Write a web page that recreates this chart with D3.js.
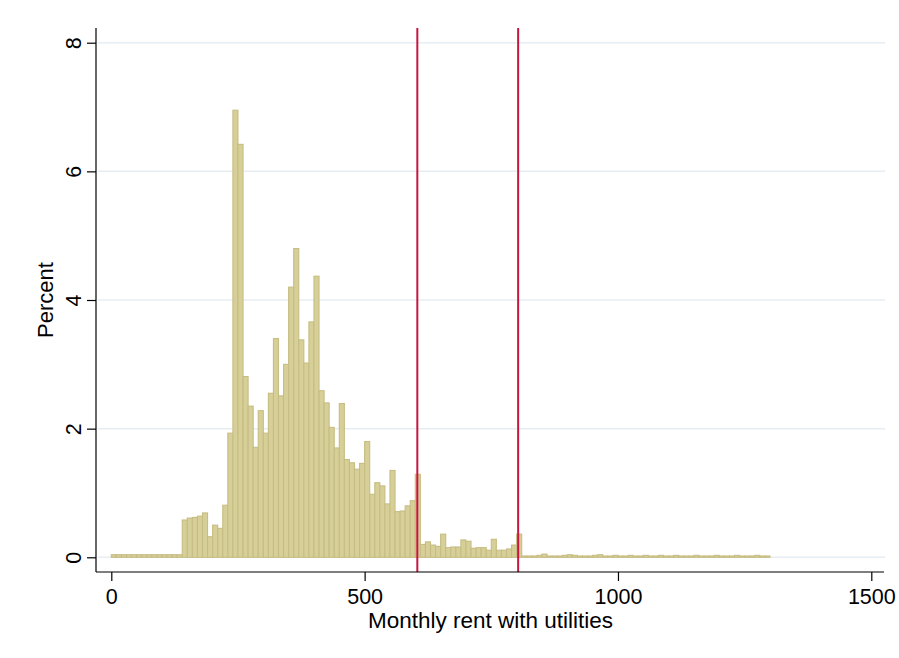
<!DOCTYPE html>
<html>
<head>
<meta charset="utf-8">
<script src="https://cdn.jsdelivr.net/npm/d3@7"></script>
<style>
  body { margin: 0; background: #fff; }
  svg { display: block; }
  text { font-family: "Liberation Sans", Arial, Helvetica, sans-serif; fill: #000; }
</style>
</head>
<body>
<svg id="chart" width="899" height="658"></svg>
<script>
// Histogram of monthly rent (with utilities), bins of 10 starting at 0
const binWidth = 10;
const percent = [
  0.04, 0.04, 0.04, 0.04, 0.04, 0.04, 0.04, 0.04, 0.04, 0.04, 0.04, 0.04, 0.04, 0.04,
  0.58, 0.61, 0.62, 0.64, 0.69, 0.32, 0.50, 0.45, 0.81, 1.93,
  6.95, 6.42, 2.81, 2.35, 1.71, 2.28, 1.93, 2.55, 3.40, 2.51, 3.00, 4.20, 4.80,
  3.38, 3.02, 3.66, 4.37, 2.59, 2.40, 2.02, 1.70, 2.39, 1.52, 1.47, 1.37, 1.46, 1.80,
  0.98, 1.16, 1.11, 0.83, 1.35, 0.71, 0.72, 0.80, 0.88, 1.29,
  0.20, 0.24, 0.19, 0.17, 0.36, 0.15, 0.16, 0.16, 0.27, 0.25,
  0.14, 0.15, 0.15, 0.11, 0.28, 0.11, 0.11, 0.13, 0.19, 0.36,
  0.02, 0.02, 0.02, 0.03, 0.05, 0.02, 0.02, 0.02, 0.03, 0.04,
  0.03, 0.02, 0.02, 0.02, 0.03, 0.04, 0.02, 0.02, 0.03, 0.02,
  0.02, 0.03, 0.02, 0.02, 0.03, 0.02, 0.02, 0.03, 0.02, 0.02,
  0.03, 0.02, 0.02, 0.02, 0.03, 0.02, 0.02, 0.02, 0.03, 0.02,
  0.02, 0.02, 0.03, 0.02, 0.02, 0.02, 0.03, 0.02, 0.02
];
const xTicks = [0, 500, 1000, 1500];
const yTicks = [0, 2, 4, 6, 8];
const cutoffs = [604, 803];
const xTitle = "Monthly rent with utilities";
const yTitle = "Percent";

const svg = d3.select("#chart");
svg.append("rect").attr("width", 899).attr("height", 658).attr("fill", "#fff");

const plot = { left: 96, right: 885, top: 28, bottom: 572 };
const x = d3.scaleLinear().domain([0, 1500]).range([111.3, 871.3]);
const y = d3.scaleLinear().domain([0, 8]).range([557.3, 42.7]);

// horizontal gridlines
svg.append("g").selectAll("line").data(yTicks).join("line")
  .attr("x1", plot.left + 2).attr("x2", plot.right)
  .attr("y1", d => y(d)).attr("y2", d => y(d))
  .attr("stroke", "#e7eef3").attr("stroke-width", 1.5);

// bars
svg.append("g").selectAll("rect").data(percent).join("rect")
  .attr("x", (d, i) => x(i * binWidth))
  .attr("width", x(binWidth) - x(0))
  .attr("y", d => y(d))
  .attr("height", d => y(0) - y(d))
  .attr("fill", "#d7cf98")
  .attr("stroke", "#c7bd84")
  .attr("stroke-width", 1.1);

// reference lines
svg.append("g").selectAll("line").data(cutoffs).join("line")
  .attr("x1", d => x(d)).attr("x2", d => x(d))
  .attr("y1", plot.top).attr("y2", plot.bottom)
  .attr("stroke", "#c8143f").attr("stroke-width", 2);

// y axis
const gy = svg.append("g").attr("transform", `translate(${plot.left},0)`)
  .call(d3.axisLeft(y).tickValues(yTicks).tickFormat(d3.format("d")).tickSize(9).tickSizeOuter(0));
gy.select(".domain").remove();
gy.selectAll(".tick line").attr("stroke", "#000").attr("stroke-width", 1.2);
gy.selectAll(".tick text")
  .attr("x", 0).attr("dy", 0)
  .attr("text-anchor", "middle")
  .attr("transform", "translate(-15,0) rotate(-90)")
  .style("font-size", "21.5px");
gy.attr("font-family", null).attr("font-size", null);
svg.append("line")
  .attr("x1", plot.left).attr("x2", plot.left)
  .attr("y1", plot.top).attr("y2", plot.bottom)
  .attr("stroke", "#000").attr("stroke-width", 1.2);

// x axis
const gx = svg.append("g").attr("transform", `translate(0,${plot.bottom})`)
  .call(d3.axisBottom(x).tickValues(xTicks).tickFormat(d3.format("d")).tickSize(9).tickSizeOuter(0));
gx.select(".domain").remove();
gx.selectAll(".tick line").attr("stroke", "#000").attr("stroke-width", 1.2);
gx.selectAll(".tick text").attr("y", 31.5).attr("dy", 0).style("font-size", "21.5px");
gx.attr("font-family", null).attr("font-size", null);
svg.append("line")
  .attr("x1", plot.left).attr("x2", plot.right - 1)
  .attr("y1", plot.bottom).attr("y2", plot.bottom)
  .attr("stroke", "#000").attr("stroke-width", 1.2);

// axis titles
svg.append("text")
  .attr("x", (plot.left + plot.right) / 2).attr("y", 628)
  .attr("text-anchor", "middle").style("font-size", "22.5px")
  .text(xTitle);
svg.append("text")
  .attr("transform", `translate(53,${(plot.top + plot.bottom) / 2}) rotate(-90)`)
  .attr("text-anchor", "middle").style("font-size", "22px")
  .text(yTitle);
</script>
</body>
</html>
